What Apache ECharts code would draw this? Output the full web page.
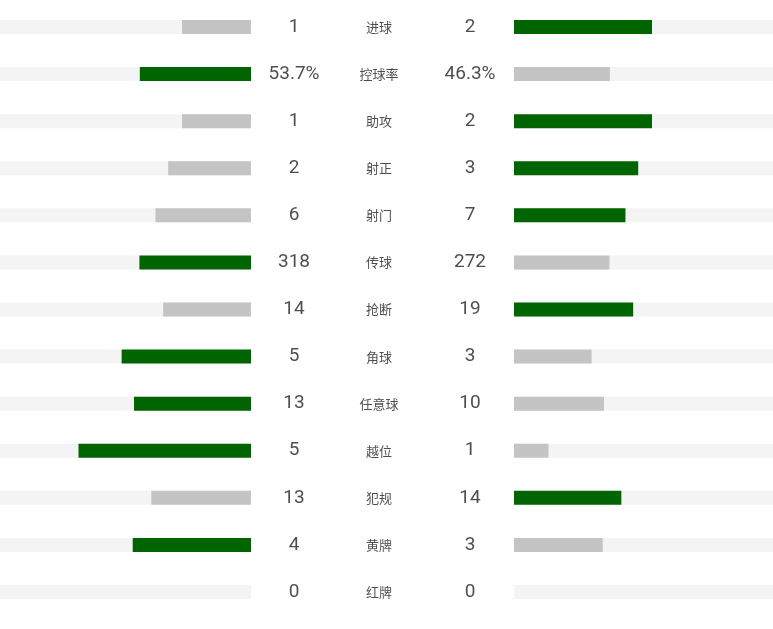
<!DOCTYPE html>
<html>
<head>
<meta charset="utf-8">
<script src="https://cdn.jsdelivr.net/npm/echarts@6/dist/echarts.min.js"></script>
<style>
  html, body { margin: 0; padding: 0; background: #fff; }
  #main { width: 773px; height: 629px; }
  #fade { position: absolute; left: 0; top: 598px; width: 773px; height: 31px;
    background: linear-gradient(rgba(255,255,255,0), rgba(255,255,255,0.95)); }
</style>
</head>
<body>
<div id="main"></div>
<div id="fade"></div>
<script>
// 技术统计
var categories = ['进球', '控球率', '助攻', '射正', '射门', '传球', '抢断', '角球', '任意球', '越位', '犯规', '黄牌', '红牌'];
var homeValues = [1, 53.7, 1, 2, 6, 318, 14, 5, 13, 5, 13, 4, 0];
var awayValues = [2, 46.3, 2, 3, 7, 272, 19, 3, 10, 1, 14, 3, 0];
var homeLabels = ['1', '53.7%', '1', '2', '6', '318', '14', '5', '13', '5', '13', '4', '0'];
var awayLabels = ['2', '46.3%', '2', '3', '7', '272', '19', '3', '10', '1', '14', '3', '0'];

var GREEN = '#006400', GRAY = '#c4c4c4', TRACK = '#f4f4f4';

// 占比（两队之和为 1）
var share = function (a, b) { return a + b === 0 ? 0 : a / (a + b); };
var homeShare = homeValues.map(function (v, i) { return share(v, awayValues[i]); });
var awayShare = awayValues.map(function (v, i) { return share(v, homeValues[i]); });

var barItem = function (v, other) {
    return { value: v, itemStyle: { color: v > other ? GREEN : GRAY } };
};

var chart = echarts.init(document.getElementById('main'));
var yBase = { type: 'category', data: categories, inverse: true, show: false };
var LEFT_MAX = 251 / 207, RIGHT_MAX = 259 / 207;

chart.setOption({
    animation: false,
    grid: [
        { left: 0, width: 251, top: 3.5, bottom: 13.5 },
        { left: 514, width: 259, top: 3.5, bottom: 13.5 },
        { left: 251, width: 263, top: 3.5, bottom: 13.5 }
    ],
    xAxis: [
        { gridIndex: 0, type: 'value', inverse: true, min: 0, max: LEFT_MAX, show: false },
        { gridIndex: 1, type: 'value', min: 0, max: RIGHT_MAX, show: false },
        { gridIndex: 2, type: 'value', min: 0, max: 263, show: false }
    ],
    yAxis: [
        Object.assign({ gridIndex: 0 }, yBase),
        Object.assign({ gridIndex: 1 }, yBase),
        Object.assign({ gridIndex: 2 }, yBase)
    ],
    series: [
        {
            type: 'bar', xAxisIndex: 0, yAxisIndex: 0, barWidth: 14, barGap: '-100%',
            data: homeShare.map(function (v, i) { return barItem(v, awayShare[i]); }),
            showBackground: true, backgroundStyle: { color: TRACK }
        },
        {
            type: 'bar', xAxisIndex: 1, yAxisIndex: 1, barWidth: 14,
            data: awayShare.map(function (v, i) { return barItem(v, homeShare[i]); }),
            showBackground: true, backgroundStyle: { color: TRACK }
        },
        {
            type: 'scatter', xAxisIndex: 2, yAxisIndex: 2, symbolSize: 0,
            data: homeLabels.map(function (t, i) { return [43, categories[i]]; }),
            label: { show: true, position: 'inside', color: '#222', fontSize: 19,
                fontFamily: 'Roboto, "Noto Sans CJK SC", sans-serif',
                formatter: function (p) { return homeLabels[p.dataIndex]; } }
        },
        {
            type: 'scatter', xAxisIndex: 2, yAxisIndex: 2, symbolSize: 0,
            data: categories.map(function (c) { return [128, c]; }),
            label: { show: true, position: 'inside', color: '#222', fontSize: 13,
                fontFamily: '"Noto Sans CJK SC", sans-serif',
                formatter: function (p) { return categories[p.dataIndex]; } }
        },
        {
            type: 'scatter', xAxisIndex: 2, yAxisIndex: 2, symbolSize: 0,
            data: awayLabels.map(function (t, i) { return [219, categories[i]]; }),
            label: { show: true, position: 'inside', color: '#222', fontSize: 19,
                fontFamily: 'Roboto, "Noto Sans CJK SC", sans-serif',
                formatter: function (p) { return awayLabels[p.dataIndex]; } }
        }
    ]
});
</script>
</body>
</html>
